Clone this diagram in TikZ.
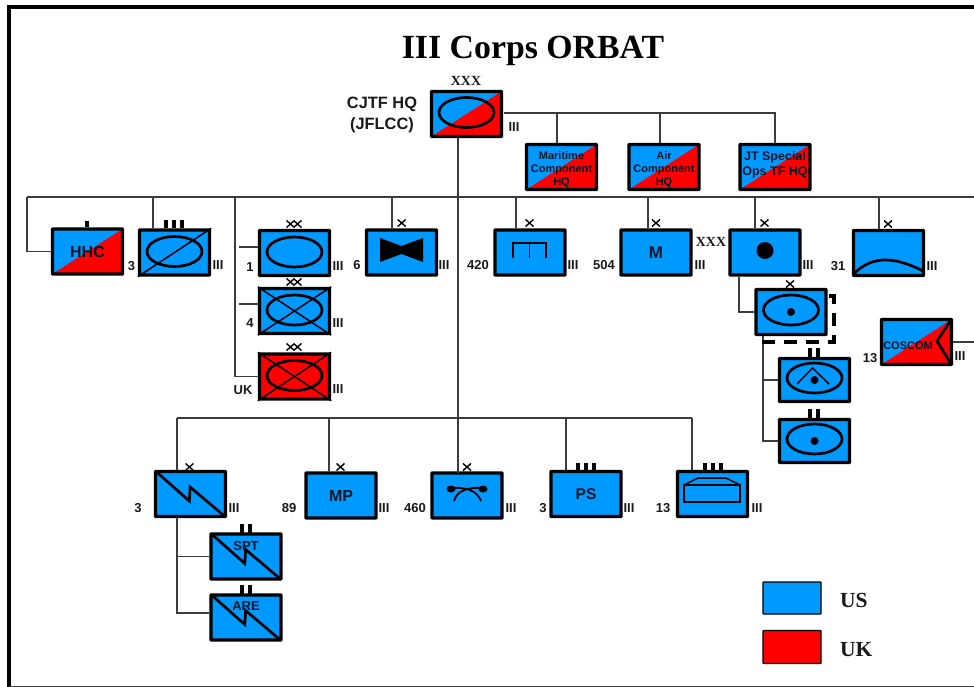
\documentclass[tikz,border=0pt]{standalone}
\usepackage{fontspec}
\setmainfont{Liberation Sans}
\newfontfamily\titlefont{Liberation Serif}
\usepackage{xcolor}
\usetikzlibrary{calc}
\definecolor{usblue}{RGB}{0,153,255}
\definecolor{ukred}{RGB}{255,0,0}
\definecolor{connc}{RGB}{60,60,60}
\newcommand{\fsz}[1]{\fontsize{#1}{#1}\selectfont\bfseries}
\tikzset{
  conn/.style={draw=connc,line width=1.2pt},
  unit/.style={draw=black,line width=3.4pt,fill=usblue,rounded corners=0.6pt,minimum width=70pt,minimum height=45pt,inner sep=0pt,text=black!85!usblue,font=\fsz{16}},
  ukunit/.style={unit,fill=ukred},
  split/.style={unit,path picture={\fill[ukred] (path picture bounding box.south west)--(path picture bounding box.north east)--(path picture bounding box.south east)--cycle;}},
  sym/.style={draw=black,line width=2.7pt},
  thin sym/.style={draw=black,line width=1.5pt},
  lbl/.style={inner sep=0pt,text=black!90,font=\fsz{13}},
  echelon/.style={fill=black},
  brig/.pic={\draw[draw=black,line width=1.4pt] (-4,-3.5)--(4,3.5) (-4,3.5)--(4,-3.5);},
  div/.pic={\draw[draw=black,line width=1.4pt] (-7.5,-3.5)--(0.5,3.5) (-7.5,3.5)--(0.5,-3.5) (-0.5,-3.5)--(7.5,3.5) (-0.5,3.5)--(7.5,-3.5);},
  lightning/.pic={\draw[sym,line join=miter] (-35,-23)--(-1.2,7)--(-0.4,-7)--(35,23);}
}
\begin{document}
\begin{tikzpicture}[x=1pt,y=-1pt]
  \useasboundingbox (0,0) rectangle (974,687);
  % frame
  \draw[black,line width=4pt] (9,687)--(9,7)--(974,7);
  \draw[connc,line width=1pt] (9,686)--(974,686);
  \node[inner sep=0pt,font=\titlefont\fsz{33.8}] (title) at (533,51) {III Corps ORBAT};

  % units
  \node[split] (corps) at (466.5,114) {};
  \node[split] (maritime) at (561.5,167) {};
  \node[split] (air) at (664,167) {};
  \node[split] (jtops) at (775,167) {};
  \node[split] (hhc) at (87.5,251.5) {HHC};
  \node[unit] (cav) at (174.5,252.5) {};
  \node[unit] (div1) at (294.5,253) {};
  \node[unit] (div4) at (294.5,311) {};
  \node[ukunit] (divuk) at (294.5,376.5) {};
  \node[unit] (sep6) at (401.5,252.5) {};
  \node[unit] (eng420) at (530,252.5) {};
  \node[unit,font=\fsz{17}] (mp504) at (656,252.5) {M};
  \node[unit] (arty) at (765,252.5) {};
  \node[unit] (avn31) at (888.5,253) {};
  \node[unit] (bde) at (791,312) {};
  \node[unit,minimum height=43pt] (bn1) at (814.5,380) {};
  \node[unit,minimum height=43pt] (bn2) at (814.5,441) {};
  \node[split] (coscom) at (916.5,342) {};
  \node[unit] (sig3) at (190.5,494) {};
  \node[unit] (mp89) at (341,495.5) {MP};
  \node[unit] (psy460) at (467,495.5) {};
  \node[unit,font=\fsz{15.5}] (ps3) at (586,494) {PS};
  \node[unit] (sup13) at (712.5,494) {};
  \node[unit] (spt) at (246,556.5) {};
  \node[unit] (are) at (246,617.5) {};

  % unit symbols
  \draw[sym] (466.5,112.5) ellipse (27.5 and 15);
  \foreach \u in {cav,div1,div4,divuk}{\draw[sym] ([yshift=1pt]\u.center) ellipse (27.5 and 15);}
  \draw[thin sym] (cav.south west)--(cav.north east);
  \foreach \u in {div4,divuk}{
    \draw[thin sym] (\u.south west)--(\u.north east);
    \draw[thin sym] (\u.north west)--(\u.south east);
  }
  \fill[black] (380,238)--(401.5,246)--(423,238)--(423,262)--(401.5,254)--(380,262)--cycle;
  \draw[black,line width=1.7pt] (513,258)--(513,243)--(546,243)--(546,258) (529.5,243)--(529.5,258);
  \fill[black] (765,250.5) circle (8.5);
  \draw[sym] (854,273.5) .. controls (870,258) and (890,254) .. (923,271);
  \draw[sym] (bde.center)++(0,-2) ellipse (27.5 and 15);
  \fill[black] (bde.center) circle (4);
  \draw[sym] (bn1.center)++(0,-2) ellipse (27.5 and 15);
  \draw[thin sym] (797,384)--(812.5,368)--(829,384);
  \fill[black] (814.5,380) circle (4);
  \draw[sym] (bn2.center)++(0,-2) ellipse (27.5 and 15);
  \fill[black] (bn2.center) circle (4);
  \draw[sym] (951,320)--(937,341)--(951,364);
  \foreach \u in {sig3,spt,are}{\pic at (\u.center) {lightning};}
  \fill[black] (451,489) ellipse (4.5 and 3.5);
  \fill[black] (483,489) ellipse (4.5 and 3.5);
  \draw[thin sym,line width=1.8pt] (451,488) .. controls (465,487) and (477,490) .. (481,501);
  \draw[thin sym,line width=1.8pt] (483,488) .. controls (469,487) and (457,490) .. (454,501);
  \draw[thin sym] (684,485)--(684,502)--(740,502)--(740,485)--cycle;
  \draw[thin sym] (684,485)--(698,478)--(726,478)--(740,485);
  % texts that lie over the symbols
  \node[lbl,font=\fsz{11},align=center,text=black!85!usblue] (maritimet) at (561.5,169.5) {Maritime\\[1.6pt]Component\\[1.6pt]HQ};
  \node[lbl,font=\fsz{11},align=center,text=black!85!usblue] (airt) at (664,169.5) {Air\\[1.6pt]Component\\[1.6pt]HQ};
  \node[lbl,font=\fsz{12.5},align=center,text=black!85!usblue] (jtopst) at (775,165) {JT Special\\[3pt]Ops TF HQ};
  \node[lbl,font=\fsz{11},text=black!85!usblue] (coscomt) at (908,346) {COSCOM};
  \node[lbl,text=black!85!usblue] (sptt) at (246,546) {SPT};
  \node[lbl,text=black!85!usblue] (aret) at (246,606) {ARE};

  % echelon marks
  \fill[echelon] (85,221) rectangle (89,227);
  \foreach \x in {166,174,182}{\fill[echelon] (\x-2,220) rectangle (\x+2,228);}
  \foreach \x in {578,586,594,705,713,721}{\fill[echelon] (\x-2,463) rectangle (\x+2,470);}
  \foreach \x in {810,818}{
    \fill[echelon] (\x-1.7,348) rectangle (\x+1.7,357);
    \fill[echelon] (\x-1.7,409) rectangle (\x+1.7,418);
  }
  \foreach \x in {242,250}{
    \fill[echelon] (\x-1.7,524) rectangle (\x+1.7,533);
    \fill[echelon] (\x-1.7,585) rectangle (\x+1.7,594);
  }
  \foreach \p in {(401.7,223),(529.5,223),(656,223),(764.5,223),(888,224),(790,284),(189.5,467),(340.5,467),(467,467)}{\pic at \p {brig};}
  \foreach \p in {(294,224),(294,282),(294,347)}{\pic at \p {div};}

  % labels
  \node[lbl,font=\titlefont\fsz{13.9}] (xxxa) at (466,81) {XXX};
  \node[lbl,font=\titlefont\fsz{13.9}] (xxxb) at (711,242) {XXX};
  \node[lbl,font=\fsz{16.4},align=center] (jflcc) at (382,115) {CJTF HQ\\[5pt](JFLCC)};
  \node[lbl] (n3a) at (131.5,266) {3};
  \node[lbl] (n1) at (250,267) {1};
  \node[lbl] (n4) at (250,323) {4};
  \node[lbl] (nuk) at (243,390) {UK};
  \node[lbl] (n6) at (357,265) {6};
  \node[lbl] (n420) at (478,265) {420};
  \node[lbl] (n504) at (604,265) {504};
  \node[lbl] (n31) at (838,266) {31};
  \node[lbl] (n13a) at (870,358) {13};
  \node[lbl] (n3b) at (138,508) {3};
  \node[lbl] (n89) at (289,508) {89};
  \node[lbl] (n460) at (415,508) {460};
  \node[lbl] (n3c) at (543,508) {3};
  \node[lbl] (n13b) at (663,508) {13};
  \foreach \n/\x/\y in {a/514/127,b/218/265,c/338/266,d/338/323,e/338/389,f/444/265,g/573/265,h/700/265,i/808/265,j/932/266,k/960/356,l/234/508,m/384/508,n/511/508,o/629/508,p/757/508}{
    \node[lbl] (iii\n) at (\x,\y) {III};
  }

  % connectors
  \coordinate (busL) at (27,197);
  \coordinate (busR) at (974,197);
  \foreach \n/\x in {tcav/153,tdiv/235,tsep/392,teng/516,tmp/648,tarty/755,tavn/879}{\coordinate (\n) at (\x,197);}
  \coordinate (lowL) at (177,418);
  \coordinate (lowR) at (692,418);
  \coordinate (hqbus) at (504,113);
  \draw[conn] (busL)--(busR);
  \draw[conn] (busL)|-(hhc.west);
  \foreach \t/\u in {tcav/cav,tsep/sep6,teng/eng420,tmp/mp504,tarty/arty,tavn/avn31}{\draw[conn] (\t)--(\t |- \u.north);}
  \draw[conn] (tdiv)|-(divuk.west);
  \coordinate (stuba) at (239,247);
  \coordinate (stubb) at (239,304);
  \draw[conn] (stuba)--(stuba -| div1.west);
  \draw[conn] (stubb)--(stubb -| div4.west);
  \coordinate (mainT) at (458,138);
  \coordinate (mainB) at (458,473);
  \draw[conn] (mainT)--(mainB);
  \draw[conn] (hqbus)-|(jtops.north);
  \foreach \x/\u in {557/maritime,660/air}{\draw[conn] (\x,113)--(\x,113 |- \u.north);}
  \draw[conn] (lowL)--(lowR);
  \foreach \x/\u in {177/sig3,329/mp89,566/ps3,692/sup13}{\draw[conn] (\x,418)--(\x,418 |- \u.north);}
  \coordinate (sigdown) at (177,518);
  \coordinate (aredown) at (209,613);
  \draw[conn] (sigdown)|-(aredown);
  \draw[conn] (sigdown |- spt.west)--(spt.west);
  \coordinate (artydown) at (739,277);
  \draw[conn] (artydown)|-(bde.west);
  \coordinate (bdedown) at (763,336);
  \draw[conn] (bdedown)|-(bn2.west);
  \draw[conn] (bdedown |- bn1.west)--(bn1.west);
  \coordinate (cosR) at (974,342);
  \draw[conn] (coscom.east)--(cosR);
  % dashed attachment
  \draw[black,line width=3.2pt,dash pattern=on 13pt off 9pt] (829,296)--(834,296)--(834,342)--(762,342);

  % legend
  \node[unit,fill=usblue,line width=1.2pt,minimum width=58pt,minimum height=32pt] (lgus) at (792,598) {};
  \node[unit,fill=ukred,line width=1.2pt,minimum width=58pt,minimum height=33pt] (lguk) at (792,647) {};
  \node[lbl,anchor=west,font=\titlefont\fsz{21.5}] (lgust) at (840,600.5) {US};
  \node[lbl,anchor=west,font=\titlefont\fsz{21.5}] (lgukt) at (840,650) {UK};
\end{tikzpicture}
\end{document}
